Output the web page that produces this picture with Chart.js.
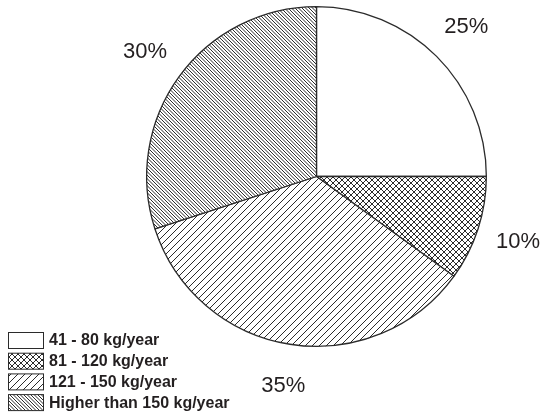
<!DOCTYPE html>
<html>
<head>
<meta charset="utf-8">
<script src="https://cdn.jsdelivr.net/npm/chart.js@4.4.1/dist/chart.umd.min.js"></script>
<style>
	html, body { margin: 0; padding: 0; background: #fff; }
	#wrap { width: 543px; height: 417px; }
</style>
</head>
<body>
<div id="wrap"><canvas id="pieChart" width="543" height="417"></canvas></div>
<script>
// Chart data
const categories = ["41 - 80 kg/year", "81 - 120 kg/year", "121 - 150 kg/year", "Higher than 150 kg/year"];
const shares = [25, 10, 35, 30];
const patternKinds = ["blank", "cross", "forward", "backDense"];

const ink = "#2b2b2b";
const fontFamily = "'Liberation Sans', Arial, Helvetica, sans-serif";

// Build hatch fills as canvas patterns
const makePattern = (kind) => {
	const size = kind === "cross" ? 6 : kind === "forward" ? 7 : kind === "backDense" ? 7 : 4;
	const tile = document.createElement("canvas");
	tile.width = size;
	tile.height = size;
	const c = tile.getContext("2d");
	c.fillStyle = "#fff";
	c.fillRect(0, 0, size, size);
	c.strokeStyle = ink;
	c.lineWidth = 1;
	const fwd = (off) => {
		// "/" lines, repeated across the tile edges
		for (const k of [-size, 0, size]) {
			c.beginPath();
			c.moveTo(off + k - 1, size + 1);
			c.lineTo(off + k + size + 1, -1);
			c.stroke();
		}
	};
	const back = (off) => {
		for (const k of [-size, 0, size]) {
			c.beginPath();
			c.moveTo(off + k - 1, -1);
			c.lineTo(off + k + size + 1, size + 1);
			c.stroke();
		}
	};
	if (kind === "cross") {
		fwd(0);
		back(0);
	} else if (kind === "forward") {
		fwd(0);
	} else if (kind === "backDense") {
		back(0);
		back(3.5);
	}
	const ctx = document.createElement("canvas").getContext("2d");
	return ctx.createPattern(tile, "repeat");
};

const fills = patternKinds.map(makePattern);

// Percent labels outside each slice
const sliceLabels = {
	id: "sliceLabels",
	afterDatasetsDraw(chart) {
		const { ctx } = chart;
		const arcs = chart.getDatasetMeta(0).data;
		ctx.save();
		ctx.font = `22px ${fontFamily}`;
		ctx.fillStyle = "#231f20";
		ctx.textAlign = "center";
		ctx.textBaseline = "middle";
		arcs.forEach((arc, i) => {
			const mid = (arc.startAngle + arc.endAngle) / 2;
			const r = arc.outerRadius + 42;
			ctx.fillText(`${shares[i]}%`, arc.x + Math.cos(mid) * r, arc.y + Math.sin(mid) * r);
		});
		ctx.restore();
	},
};

// Legend box in the lower left corner
const cornerLegend = {
	id: "cornerLegend",
	afterDraw(chart) {
		const { ctx } = chart;
		ctx.save();
		ctx.font = `bold 16px ${fontFamily}`;
		ctx.textBaseline = "middle";
		ctx.textAlign = "left";
		categories.forEach((label, i) => {
			const y = 332 + i * 20.7;
			ctx.fillStyle = fills[i];
			ctx.fillRect(8.5, y + 0.5, 35, 16);
			ctx.strokeStyle = ink;
			ctx.lineWidth = 1;
			ctx.strokeRect(8.5, y + 0.5, 35, 16);
			ctx.fillStyle = "#231f20";
			ctx.fillText(label, 49, y + 9);
		});
		ctx.restore();
	},
};

new Chart(document.getElementById("pieChart"), {
	type: "pie",
	data: {
		labels: categories,
		datasets: [
			{
				data: shares,
				backgroundColor: fills,
				borderColor: ink,
				borderWidth: 1.3,
			},
		],
	},
	options: {
		responsive: false,
		animation: false,
		layout: {
			padding: { left: 146, right: 56, top: 6, bottom: 70 },
		},
		plugins: {
			legend: { display: false },
			tooltip: { enabled: false },
		},
	},
	plugins: [sliceLabels, cornerLegend],
});
</script>
</body>
</html>
